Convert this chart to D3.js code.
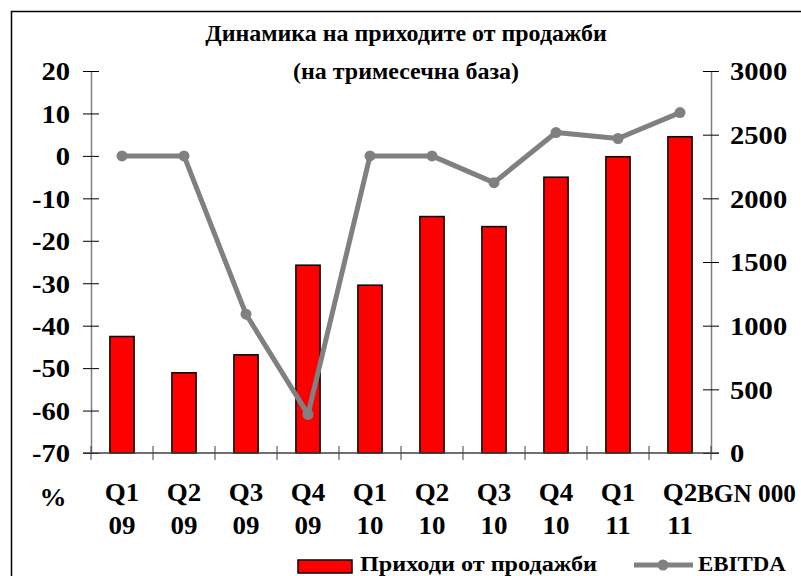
<!DOCTYPE html>
<html>
<head>
<meta charset="utf-8">
<script src="https://cdn.jsdelivr.net/npm/d3@7"></script>
<style>
  html, body { margin: 0; padding: 0; background: #fff; }
  svg text { font-family: "Liberation Serif", "Times New Roman", serif; font-weight: bold; fill: #000; }
</style>
</head>
<body>
<div id="chart"></div>
<script>
// Data
const quarters = ["Q1", "Q2", "Q3", "Q4", "Q1", "Q2", "Q3", "Q4", "Q1", "Q2"];
const years = ["09", "09", "09", "09", "10", "10", "10", "10", "11", "11"];
const revenue = [915, 630, 771, 1475, 1318, 1857, 1778, 2166, 2327, 2484];   // BGN 000, right axis
const ebitda = [0, 0, -37.3, -60.9, 0, 0, -6.3, 5.5, 4.1, 10.2];            // %, left axis
const leftTicks = [20, 10, 0, -10, -20, -30, -40, -50, -60, -70];
const rightTicks = [0, 500, 1000, 1500, 2000, 2500, 3000];

const width = 801;
const height = 576;
const plot = { left: 91, right: 711, top: 71, bottom: 453 };

const svg = d3.select("#chart")
    .append("svg")
    .attr("width", width)
    .attr("height", height)
    .attr("viewBox", `0 0 ${width} ${height}`);

// the original font is drawn a bit wider than Liberation Serif, stretch around the anchor
function stretchX(sel, k) {
    sel.each(function() {
        const t = d3.select(this);
        const ax = +t.attr("x") || 0;
        t.attr("transform", `translate(${ax},0) scale(${k},1) translate(${-ax},0)`);
    });
}

// frame (only top and left edges are visible in the picture)
svg.append("rect")
    .attr("x", 11.5)
    .attr("y", 11.5)
    .attr("width", width + 20)
    .attr("height", height + 20)
    .attr("fill", "none")
    .attr("stroke", "#000")
    .attr("stroke-width", 1.5);

// Title
const title = svg.append("text")
    .attr("x", 406)
    .attr("text-anchor", "middle")
    .style("font-size", "23.5px");
title.append("tspan").attr("x", 406).attr("y", 41).text("Динамика на приходите от продажби");
title.append("tspan").attr("x", 406).attr("y", 79).text("(на тримесечна база)");
stretchX(title, 1.02);

// Scales
const x = d3.scaleBand()
    .domain(d3.range(quarters.length))
    .range([plot.left, plot.right])
    .padding(0);

const yLeft = d3.scaleLinear().domain([-70, 20]).range([plot.bottom, plot.top]);
const yRight = d3.scaleLinear().domain([0, 3000]).range([plot.bottom, plot.top]);

const barWidth = x.bandwidth() * 0.39;

// Bars
svg.append("g")
    .selectAll("rect")
    .data(revenue)
    .join("rect")
    .attr("x", (d, i) => x(i) + (x.bandwidth() - barWidth) / 2)
    .attr("y", d => yRight(d))
    .attr("width", barWidth)
    .attr("height", d => yRight(0) - yRight(d))
    .attr("fill", "#ff0000")
    .attr("stroke", "#000")
    .attr("stroke-width", 1.5);

// Axes
function styleAxis(g) {
    g.select(".domain").attr("stroke", "#808080").attr("stroke-width", 1.5);
    g.selectAll(".tick line")
        .attr("stroke", "#000")
        .attr("x1", -8)
        .attr("x2", 8);
    g.selectAll(".tick text")
        .style("font-size", "26px")
        .attr("dy", "0.34em")
        .call(stretchX, 1.1);
}

const plain = d => String(d);

const leftAxis = svg.append("g")
    .attr("transform", `translate(${plot.left},0)`)
    .call(d3.axisLeft(yLeft).tickValues(leftTicks).tickFormat(plain).tickSizeOuter(0).tickPadding(15));
styleAxis(leftAxis);

const rightAxis = svg.append("g")
    .attr("transform", `translate(${plot.right},0)`)
    .call(d3.axisRight(yRight).tickValues(rightTicks).tickFormat(plain).tickSizeOuter(0).tickPadding(13));
styleAxis(rightAxis);

// Bottom axis with ticks at category boundaries
const bottom = svg.append("g");
bottom.append("line")
    .attr("x1", plot.left - 8)
    .attr("x2", plot.right + 8)
    .attr("y1", plot.bottom)
    .attr("y2", plot.bottom)
    .attr("stroke", "#404040")
    .attr("stroke-width", 1.5);
bottom.selectAll("line.cat")
    .data(d3.range(quarters.length + 1))
    .join("line")
    .attr("class", "cat")
    .attr("x1", i => i < quarters.length ? x(i) : plot.right)
    .attr("x2", i => i < quarters.length ? x(i) : plot.right)
    .attr("y1", plot.bottom - 7)
    .attr("y2", plot.bottom + 7)
    .attr("stroke", "#404040")
    .attr("stroke-width", 1);

const catLabels = bottom.selectAll("text.cat")
    .data(quarters)
    .join("text")
    .attr("class", "cat")
    .attr("x", (d, i) => x(i) + x.bandwidth() / 2)
    .attr("text-anchor", "middle")
    .style("font-size", "25px");
catLabels.append("tspan")
    .attr("x", (d, i) => x(i) + x.bandwidth() / 2)
    .attr("y", 501)
    .text(d => d);
catLabels.append("tspan")
    .attr("x", (d, i) => x(i) + x.bandwidth() / 2)
    .attr("y", 534)
    .text((d, i) => years[i]);
stretchX(catLabels, 1.08);

// Unit labels
svg.append("text")
    .attr("x", 53)
    .attr("y", 506)
    .attr("text-anchor", "middle")
    .style("font-size", "25px")
    .text("%")
    .call(stretchX, 1.08);

svg.append("text")
    .attr("x", 697)
    .attr("y", 502)
    .style("font-size", "25px")
    .attr("textLength", 99)
    .attr("lengthAdjust", "spacingAndGlyphs")
    .text("BGN 000");

// EBITDA line
const line = d3.line()
    .x((d, i) => x(i) + x.bandwidth() / 2)
    .y(d => yLeft(d));

svg.append("path")
    .datum(ebitda)
    .attr("d", line)
    .attr("fill", "none")
    .attr("stroke", "#808080")
    .attr("stroke-width", 5)
    .attr("stroke-linejoin", "round");

svg.append("g")
    .selectAll("circle")
    .data(ebitda)
    .join("circle")
    .attr("cx", (d, i) => x(i) + x.bandwidth() / 2)
    .attr("cy", d => yLeft(d))
    .attr("r", 5.5)
    .attr("fill", "#808080");

// Legend
const legend = svg.append("g");
legend.append("rect")
    .attr("x", 298)
    .attr("y", 560)
    .attr("width", 54)
    .attr("height", 13)
    .attr("fill", "#ff0000")
    .attr("stroke", "#000")
    .attr("stroke-width", 1.5);
legend.append("text")
    .attr("x", 360)
    .attr("y", 571)
    .style("font-size", "22px")
    .text("Приходи от продажби")
    .call(stretchX, 1.1);

legend.append("line")
    .attr("x1", 634)
    .attr("x2", 693)
    .attr("y1", 565)
    .attr("y2", 565)
    .attr("stroke", "#808080")
    .attr("stroke-width", 5);
legend.append("circle")
    .attr("cx", 663)
    .attr("cy", 565)
    .attr("r", 5.5)
    .attr("fill", "#808080");
legend.append("text")
    .attr("x", 698)
    .attr("y", 571)
    .style("font-size", "22px")
    .text("EBITDA")
    .call(stretchX, 1.04);
</script>
</body>
</html>
